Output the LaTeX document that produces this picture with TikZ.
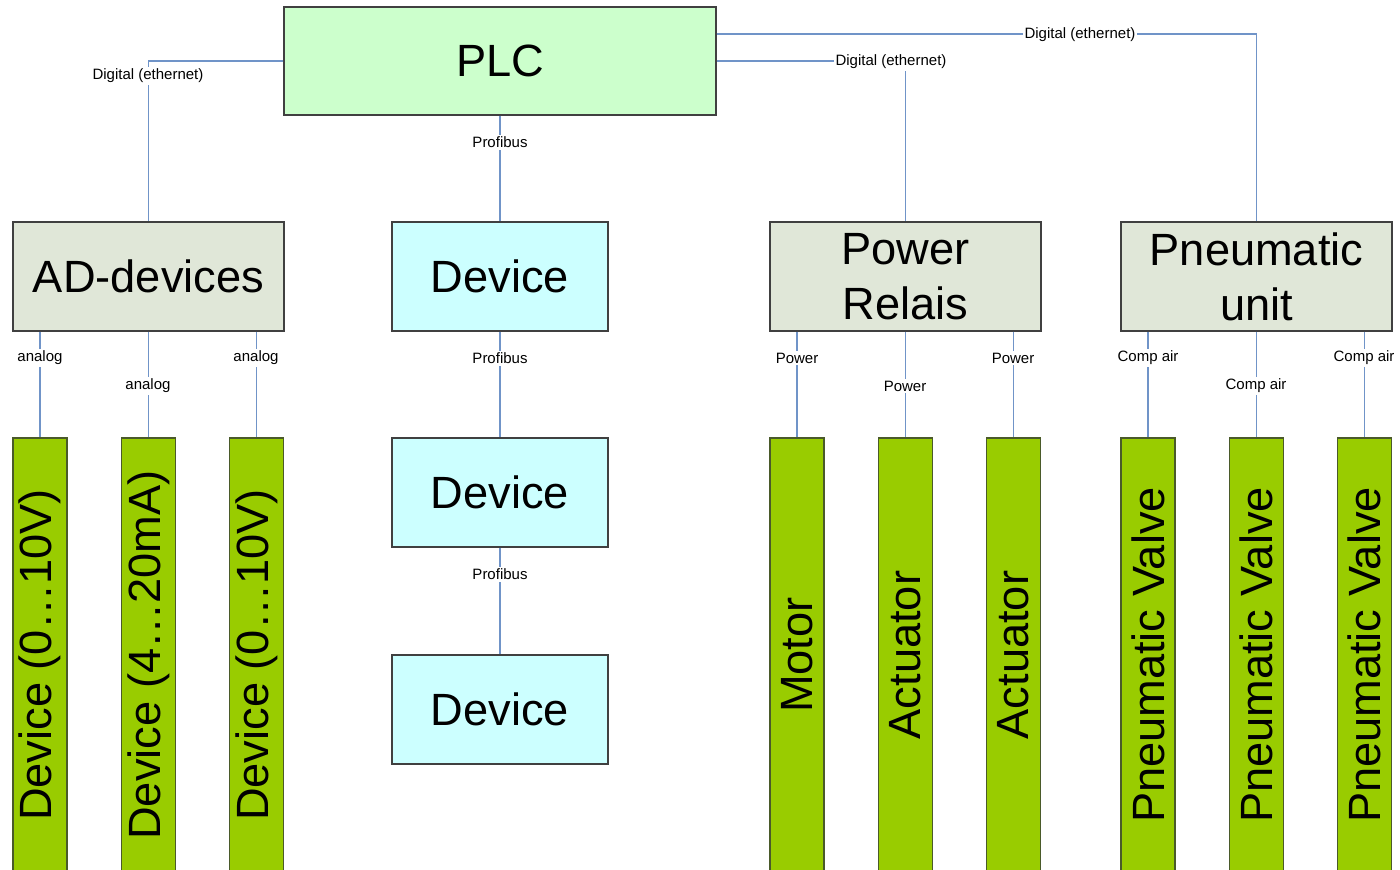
\documentclass[tikz,border=0pt]{standalone}
\usepackage{fontspec}
\setmainfont{Liberation Sans}
\usepackage{graphicx}
\definecolor{plcfill}{HTML}{CCFFCC}
\definecolor{devfill}{HTML}{CCFFFF}
\definecolor{grpfill}{HTML}{E0E7D8}
\definecolor{barfill}{HTML}{99CC00}
\definecolor{barline}{HTML}{4A5A2A}
\definecolor{boxline}{HTML}{404040}
\definecolor{wire}{HTML}{7094C8}
\tikzset{
  box/.style={draw=boxline, line width=0.6pt, inner sep=0pt, align=center, font=\fontsize{22.6}{27.5}\selectfont},
  plcbox/.style={box, fill=plcfill, minimum width=216pt, minimum height=54pt},
  devbox/.style={box, fill=devfill, minimum width=108pt, minimum height=54.5pt},
  grpbox/.style={box, fill=grpfill, minimum width=135.5pt, minimum height=54.5pt},
  bar/.style={box, draw=barline, fill=barfill, minimum width=27pt, minimum height=217pt},
  wirestyle/.style={draw=wire, line width=0.75pt},
  lbl/.style={fill=white, inner sep=1pt, font=\fontsize{7.5}{9}\selectfont}
}
\begin{document}
\begin{tikzpicture}[x=0.5pt,y=-0.5pt]
\useasboundingbox (0,0) rectangle (1400,869);
\clip (0,0) rectangle (1400,869);
% main boxes
\node[plcbox] (plc) at (500,61) {PLC};
\node[grpbox] (ad) at (148.5,276.5) {AD-devices};
\node[devbox] (dev1) at (500,276.5) {Device};
\node[devbox] (dev2) at (500,492.5) {Device};
\node[devbox] (dev3) at (500,709.5) {Device};
\node[grpbox] (pr) at (905.5,276.5) {Power\\Relais};
\node[grpbox] (pn) at (1256.5,276.5) {Pneumatic\\unit};
% bars
\node[bar] (a1) at (40,655) {\rotatebox{90}{Device (0…10V)}};
\node[bar] (a2) at (148.5,655) {\rotatebox{90}{Device (4…20mA)}};
\node[bar] (a3) at (256.5,655) {\rotatebox{90}{Device (0…10V)}};
\node[bar] (p1) at (797,655) {\rotatebox{90}{Motor}};
\node[bar] (p2) at (905.5,655) {\rotatebox{90}{Actuator}};
\node[bar] (p3) at (1013.5,655) {\rotatebox{90}{Actuator}};
\node[bar] (n1) at (1148,655) {\rotatebox{90}{Pneumatic Valve}};
\node[bar] (n2) at (1256.5,655) {\rotatebox{90}{Pneumatic Valve}};
\node[bar] (n3) at (1364.5,655) {\rotatebox{90}{Pneumatic Valve}};
% connectors
\draw[wirestyle] (plc.west) -| (ad.north);
\draw[wirestyle] (plc.east) -| (pr.north);
\draw[wirestyle] ([yshift=13.5pt]plc.east) -| (pn.north);
\draw[wirestyle] (plc.south) -- (dev1.north);
\draw[wirestyle] (dev1.south) -- (dev2.north);
\draw[wirestyle] (dev2.south) -- (dev3.north);
\foreach \b/\g in {a1/ad,a2/ad,a3/ad,p1/pr,p2/pr,p3/pr,n1/pn,n2/pn,n3/pn}{
  \draw[wirestyle] (\g.south -| \b.north) -- (\b.north);
}
% labels
\node[lbl] (l1) at (148,76) {Digital (ethernet)};
\node[lbl] (l2) at (891,62) {Digital (ethernet)};
\node[lbl] (l3) at (1080,35) {Digital (ethernet)};
\node[lbl] (l4) at (500,142) {Profibus};
\node[lbl] (l5) at (500,358) {Profibus};
\node[lbl] (l6) at (500,574) {Profibus};
\node[lbl] (l7) at (40,358) {analog};
\node[lbl] (l8) at (148,386) {analog};
\node[lbl] (l9) at (256,358) {analog};
\node[lbl] (l10) at (797,358) {Power};
\node[lbl] (l11) at (905,386) {Power};
\node[lbl] (l12) at (1013,358) {Power};
\node[lbl] (l13) at (1148,358) {Comp air};
\node[lbl] (l14) at (1256,386) {Comp air};
\node[lbl] (l15) at (1364,358) {Comp air};
\end{tikzpicture}
\end{document}
